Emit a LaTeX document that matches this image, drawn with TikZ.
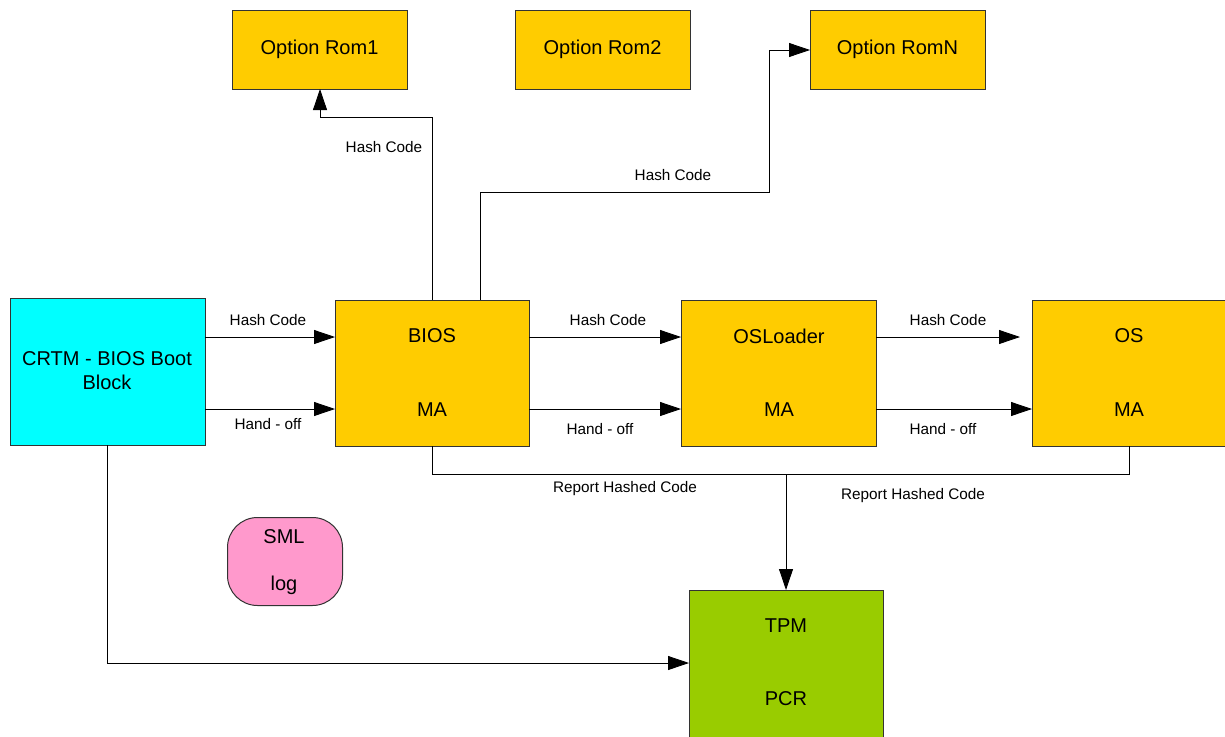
\documentclass[tikz,border=0pt]{standalone}
\usepackage{fontspec}
\setmainfont{Liberation Sans}
\usetikzlibrary{arrows.meta}
\definecolor{boxgold}{HTML}{FFCC00}
\definecolor{boxcyan}{HTML}{00FFFF}
\definecolor{boxpink}{HTML}{FF99CC}
\definecolor{boxgreen}{HTML}{99CC00}
\definecolor{edge}{HTML}{333333}
\tikzset{
  box/.style={draw=edge, line width=1pt, fill=boxgold, anchor=north west, inner sep=0pt, outer sep=0pt},
  big/.style={font=\fontsize{20}{24}\selectfont},
  lbl/.style={font=\fontsize{15.3}{17}\selectfont, inner sep=0pt},
  conn/.style={draw=black, line width=0.8pt},
  arr/.style={conn, -{Triangle[length=21pt,width=14pt]}},
}
\begin{document}
\begin{tikzpicture}[x=1pt,y=-1pt]
\clip (0,0) rectangle (1225,736);
\fill[white] (0,0) rectangle (1225,736);
% boxes
\node[box, minimum width=175pt, minimum height=79pt] (rom1) at (232,10) {};
\node[big] at (rom1.center) {Option Rom1};
\node[box, minimum width=175pt, minimum height=79pt] (rom2) at (515,10) {};
\node[big] at (rom2.center) {Option Rom2};
\node[box, minimum width=175pt, minimum height=79pt] (romN) at (810,10) {};
\node[big] at (romN.center) {Option RomN};
\node[box, fill=boxcyan, minimum width=195pt, minimum height=147pt] (crtm) at (10,298) {};
\node[big, align=center] at (107,371) {CRTM - BIOS Boot\\Block};
\node[box, minimum width=194pt, minimum height=146pt] (bios) at (335,300) {};
\node[big] at (432,336) {BIOS};
\node[big] at (432,410) {MA};
\node[box, minimum width=195pt, minimum height=146pt] (osl) at (681,300) {};
\node[big] at (779,336) {OSLoader};
\node[big] at (779,410) {MA};
\node[box, minimum width=200pt, minimum height=146pt] (os) at (1032,300) {};
\node[big] at (1129,336) {OS};
\node[big] at (1129,410) {MA};
\node[draw=edge, line width=1pt, fill=boxpink, rounded corners=30pt, minimum width=115pt, minimum height=88pt, anchor=north west, inner sep=0pt] (sml) at (227,517) {};
\node[big] at (284,537) {SML};
\node[big] at (284,585) {log};
\node[box, fill=boxgreen, minimum width=194pt, minimum height=160pt] (tpm) at (689,590) {};
\node[big] at (786,626) {TPM};
\node[big] at (786,699) {PCR};
% coordinates
\coordinate (osHashEnd) at (1020,337);
\coordinate (join) at (786,474);
% horizontal flow
\draw[arr] (crtm.east |- 0,337) -- (bios.west |- 0,337);
\draw[arr] (crtm.east |- 0,409) -- (bios.west |- 0,409);
\draw[arr] (bios.east |- 0,337) -- (osl.west |- 0,337);
\draw[arr] (bios.east |- 0,409) -- (osl.west |- 0,409);
\draw[arr] (osl.east |- 0,337) -- (osHashEnd);
\draw[arr] (osl.east |- 0,409) -- (os.west |- 0,409);
\node[lbl] at (268,320) {Hash Code};
\node[lbl] at (268,424) {Hand - off};
\node[lbl] at (608,320) {Hash Code};
\node[lbl] at (600,429) {Hand - off};
\node[lbl] at (948,320) {Hash Code};
\node[lbl] at (943,429) {Hand - off};
% to option roms
\draw[arr] (bios.north -| 432,0) |- (320,117) -- (rom1.south -| 320,0);
\node[lbl] at (384,147) {Hash Code};
\draw[arr] (bios.north -| 480,0) |- (769,192) |- (romN.west |- 0,50);
\node[lbl] at (673,175) {Hash Code};
% report
\draw[conn] (bios.south -| 432,0) |- (1129,474) -- (os.south -| 1129,0);
\draw[arr] (join) -- (tpm.north -| 786,0);
\node[lbl] at (625,489) {Report Hashed Code};
\node[lbl] at (913,496) {Report Hashed Code};
% crtm to tpm
\draw[arr] (crtm.south -| 107,0) |- (tpm.west |- 0,663);
\end{tikzpicture}
\end{document}
